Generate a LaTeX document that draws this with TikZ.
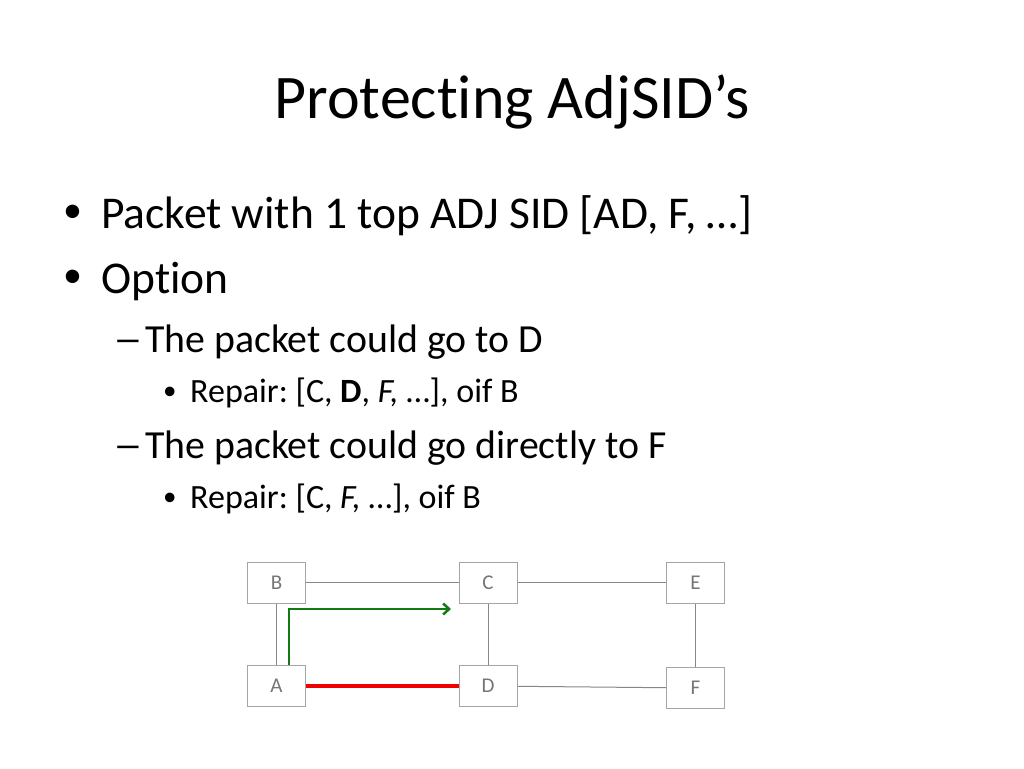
\documentclass[tikz,border=0pt]{standalone}
\usepackage{fontspec}
\setmainfont{Carlito}[Ligatures={TeX,NoCommon}]
\usetikzlibrary{arrows.meta}
\definecolor{boxgray}{RGB}{165,165,165}
\definecolor{linkgray}{RGB}{135,135,135}
\definecolor{labelgray}{RGB}{118,118,118}
\definecolor{pathgreen}{RGB}{18,122,18}
\definecolor{pathred}{RGB}{240,0,0}
\frenchspacing

\begin{document}
\begin{tikzpicture}[x=1pt, y=-1pt,
    router/.style={draw=boxgray, line width=1pt, minimum width=58pt, minimum height=41pt,
        inner sep=0pt, text=labelgray, font=\fontsize{21}{24}\selectfont},
    link/.style={draw=linkgray, line width=1pt},
    lvlone/.style={anchor=base west, inner sep=0pt, font=\fontsize{45.5}{54}\selectfont},
    lvltwo/.style={anchor=base west, inner sep=0pt, font=\fontsize{39.8}{48}\selectfont},
    lvlthree/.style={anchor=base west, inner sep=0pt, font=\fontsize{34}{40}\selectfont},
    dotone/.style={anchor=base west, inner sep=0pt, font=\fontsize{38}{40}\selectfont},
    dotthree/.style={anchor=base west, inner sep=0pt, font=\fontsize{27}{30}\selectfont}]
\useasboundingbox (0,0) rectangle (1024,768);
\fill[white] (0,0) rectangle (1024,768);

% title
\node[anchor=base, inner sep=0pt, font=\fontsize{62}{74}\selectfont] (title) at (512,118) {Protecting AdjSID’s};

% bullets
\node[dotone] (b1) at (63,222) {•};
\node[lvlone] (t1) at (101,228) {Packet with 1 top ADJ SID [AD, F, …]};
\node[dotone] (b2) at (63,287) {•};
\node[lvlone] (t2) at (101,293) {Option};
\node[lvltwo] (d1) at (113,352) {\scalebox{1.5}[1]{–}};
\node[lvltwo] (t3) at (145,352) {The packet could go to D};
\node[dotthree] (b3) at (163,399) {•};
\node[lvlthree] (t4) at (190,402) {Repair: [C, \textbf{D}, \textit{F,} …], oif B};
\node[lvltwo] (d2) at (113,458) {\scalebox{1.5}[1]{–}};
\node[lvltwo] (t5) at (145,458) {The packet could go directly to F};
\node[dotthree] (b4) at (163,505) {•};
\node[lvlthree] (t6) at (190,508) {Repair: [C, \textit{F,} …], oif B};

% network
\node[router] (B) at (276.5,582.5) {B};
\node[router] (C) at (488,582.5) {C};
\node[router] (E) at (695.5,582.5) {E};
\node[router] (A) at (276.5,686) {A};
\node[router] (D) at (488,686) {D};
\node[router] (F) at (695.5,688) {F};

\draw[link] (B) -- (C);
\draw[link] (C) -- (E);
\draw[link] (B) -- (A);
\draw[link] (C) -- (D);
\draw[link] (E) -- (F);
\draw[link] (D) -- (F);

\draw[pathred, line width=4pt] (A) -- (D);
\coordinate (tip) at (451,609);
\draw[pathgreen, line width=2.5pt, -{Straight Barb[length=6pt, width=11pt]}]
    ([xshift=12.5pt]A.north) |- (tip);
\end{tikzpicture}
\end{document}
